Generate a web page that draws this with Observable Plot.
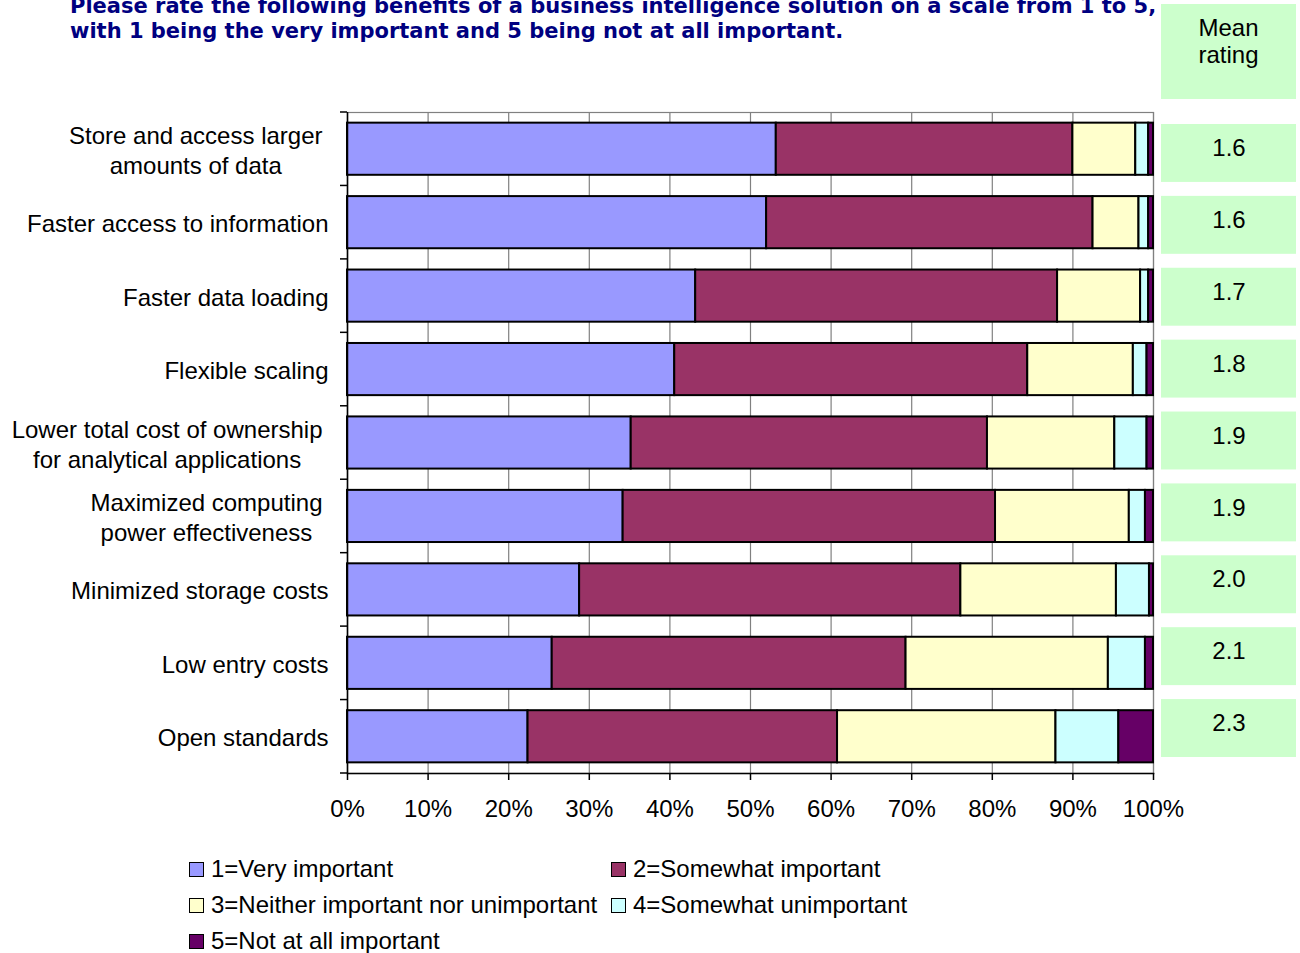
<!DOCTYPE html>
<html><head><meta charset="utf-8">
<script src="https://cdn.jsdelivr.net/npm/d3@7"></script>
<script src="https://cdn.jsdelivr.net/npm/@observablehq/plot@0.6"></script>
<style>
body{margin:0;background:#fff;}
#wrap{position:relative;width:1300px;height:953px;overflow:hidden;font-family:"Liberation Sans",Arial,sans-serif;color:#000;}
#title{position:absolute;left:70px;top:-6px;font-family:"DejaVu Sans",Verdana,sans-serif;font-weight:bold;font-size:21px;line-height:25px;color:#000080;white-space:nowrap;}
#main{position:absolute;left:0;top:0;}
#meanhead{position:absolute;left:1161px;top:4px;width:135px;height:95px;background:#CCFFCC;text-align:center;font-size:24px;line-height:27px;box-sizing:border-box;padding-top:10px;}
#means{position:absolute;left:1161px;top:0;}
#legend{position:absolute;left:189px;top:851px;display:grid;grid-template-columns:422px auto;grid-auto-rows:36px;font-size:24px;}
.li{display:flex;align-items:center;white-space:nowrap;}
.sw{width:15px;height:15px;box-sizing:border-box;border:1.5px solid #000;margin-right:7px;}
</style></head>
<body>
<div id="wrap">
  <div id="title">Please rate the following benefits of a business intelligence solution on a scale from 1 to 5,<br>with 1 being the very important and 5 being not at all important.</div>
  <div id="main"></div>
  <div id="means"></div>
  <div id="meanhead">Mean<br>rating</div>
  <div id="legend"></div>
</div>
<script>
const categories = [
  "Store and access larger\namounts of data",
  "Faster access to information",
  "Faster data loading",
  "Flexible scaling",
  "Lower total cost of ownership\nfor analytical applications",
  "Maximized computing\npower effectiveness",
  "Minimized storage costs",
  "Low entry costs",
  "Open standards"
];
const levels = [
  "1=Very important",
  "2=Somewhat important",
  "3=Neither important nor unimportant",
  "4=Somewhat unimportant",
  "5=Not at all important"
];
const colors = ["#9999FF", "#993366", "#FFFFCC", "#CCFFFF", "#660066"];
const veryImportant      = [53.2, 52.0, 43.2, 40.6, 35.2, 34.2, 28.8, 25.4, 22.4];
const somewhatImportant  = [36.8, 40.5, 44.9, 43.8, 44.2, 46.2, 47.3, 43.9, 38.4];
const neither            = [7.8, 5.7, 10.3, 13.1, 15.8, 16.6, 19.3, 25.1, 27.1];
const somewhatUnimportant= [1.6, 1.2, 1.0, 1.7, 4.0, 2.0, 4.1, 4.6, 7.8];
const notAtAll           = [0.6, 0.6, 0.6, 0.8, 0.8, 1.0, 0.5, 1.0, 4.3];
const means = [1.6, 1.6, 1.7, 1.8, 1.9, 1.9, 2.0, 2.1, 2.3];
const xTicks = [0, 10, 20, 30, 40, 50, 60, 70, 80, 90, 100];

const series = [veryImportant, somewhatImportant, neither, somewhatUnimportant, notAtAll];
const data = categories.flatMap((c, i) => levels.map((l, j) => ({category: c, level: l, value: series[j][i]})));

const FONT = '"Liberation Sans", Arial, sans-serif';

function boundaryTicks(index, scales) {
  const y = scales.y;
  const bw = typeof y.bandwidth === "function" ? y.bandwidth() : y.bandwidth;
  const step = y(categories[1]) - y(categories[0]);
  const gap = step - bw;
  const x0 = scales.x(0);
  const ys = categories.map(c => y(c) - gap / 2);
  ys.push(y(categories[categories.length - 1]) + bw + gap / 2);
  const g = d3.create("svg:g");
  g.selectAll("line").data(ys).join("line")
    .attr("x1", x0 - 7).attr("x2", x0).attr("y1", d => d).attr("y2", d => d)
    .attr("stroke", "black").attr("stroke-width", 1.5);
  return g.node();
}

const chart = Plot.plot({
  width: 1300, height: 830,
  marginLeft: 347, marginRight: 147, marginTop: 112, marginBottom: 57,
  style: {fontFamily: FONT, fontSize: "24px", background: "transparent", color: "black"},
  x: {domain: [0, 100], label: null},
  y: {domain: categories, paddingInner: 0.29, paddingOuter: 0.145, round: false, axis: null},
  color: {domain: levels, range: colors},
  marks: [
    Plot.gridX(xTicks, {stroke: "#808080", strokeOpacity: 1, strokeWidth: 1.2}),
    Plot.frame({stroke: "#808080", strokeWidth: 1.2}),
    Plot.barX(data, {x: "value", y: "category", fill: "level", stroke: "black", strokeWidth: 2}),
    Plot.ruleX([0], {stroke: "black", strokeWidth: 1.5}),
    Plot.frame({anchor: "bottom", stroke: "black", strokeWidth: 1.5}),
    Plot.axisX(xTicks, {tickSize: 7, tickPadding: 19, tickFormat: d => d + "%", fontSize: 24, stroke: "black", strokeWidth: 1.5, fill: "black"}),
    boundaryTicks,
    Plot.text(categories, {y: d => d, text: d => d, frameAnchor: "left", textAnchor: "end", dx: -19, lineHeight: 1.25, fontSize: 24, fill: "black", className: "ylab"})
  ]
});
document.getElementById("main").append(chart);

// center multi-line labels within their right-aligned block
d3.selectAll(".ylab text").each(function() {
  const tspans = d3.select(this).selectAll("tspan");
  if (tspans.size() > 1) {
    let maxW = 0;
    tspans.each(function() { maxW = Math.max(maxW, this.getComputedTextLength()); });
    d3.select(this).attr("text-anchor", "middle");
    tspans.attr("x", -maxW / 2 - 6);
  }
});

const meanPlot = Plot.plot({
  width: 135, height: 800, margin: 0,
  style: {fontFamily: FONT, fontSize: "24px", background: "transparent", color: "black"},
  x: {axis: null},
  y: {domain: categories, range: [124, 757], paddingInner: 0.194, paddingOuter: 0, round: false, axis: null},
  marks: [
    Plot.cell(categories, {y: d => d, fill: "#CCFFCC"}),
    Plot.text(categories, {y: d => d, text: (d, i) => means[i].toFixed(1), dy: -5, fontSize: 24, fill: "black"})
  ]
});
document.getElementById("means").append(meanPlot);

const legend = d3.select("#legend");
levels.forEach((l, i) => {
  const item = legend.append("div").attr("class", "li");
  item.append("div").attr("class", "sw").style("background", colors[i]);
  item.append("span").text(l);
});
</script>
</body></html>
